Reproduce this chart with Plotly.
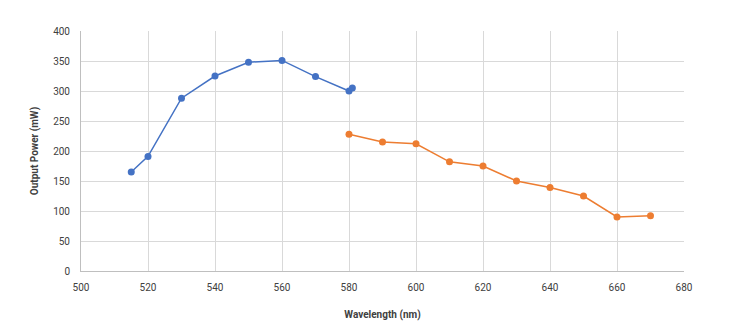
import plotly.graph_objects as go

# Output power vs wavelength for two laser lines
wl_green = [515, 520, 530, 540, 550, 560, 570, 580, 581]
pw_green = [165, 191, 288, 325, 348, 351, 324, 300, 305]

wl_orange = [580, 590, 600, 610, 620, 630, 640, 650, 660, 670]
pw_orange = [228, 215, 212, 182, 175, 150, 139, 125, 90, 92]

x_ticks = [500, 520, 540, 560, 580, 600, 620, 640, 660, 680]
y_ticks = [0, 50, 100, 150, 200, 250, 300, 350, 400]

font_family = "Roboto, sans-serif"

fig = go.Figure()
fig.add_trace(go.Scatter(
    x=wl_green, y=pw_green, mode="lines+markers",
    line=dict(color="#4472C4", width=1.5),
    marker=dict(color="#4472C4", size=7),
    showlegend=False,
))
fig.add_trace(go.Scatter(
    x=wl_orange, y=pw_orange, mode="lines+markers",
    line=dict(color="#ED7D31", width=1.5),
    marker=dict(color="#ED7D31", size=7),
    showlegend=False,
))

fig.update_layout(
    width=730, height=336,
    margin=dict(l=81, r=46, t=31, b=65),
    paper_bgcolor="white", plot_bgcolor="white",
    font=dict(family=font_family, size=10, color="#404040"),
    xaxis=dict(
        range=[500, 680], tickvals=x_ticks, showgrid=True,
        gridcolor="#d9d9d9", gridwidth=1, zeroline=False,
        showline=True, linecolor="#bfbfbf", mirror=False,
        ticks="outside", ticklen=7, tickcolor="rgba(0,0,0,0)",
        title=dict(text="<b>Wavelength (nm)</b>", standoff=18,
                   font=dict(size=10, color="#404040")),
    ),
    yaxis=dict(
        range=[0, 400], tickvals=y_ticks, showgrid=True,
        gridcolor="#d9d9d9", gridwidth=1, zeroline=False,
        showline=True, linecolor="#bfbfbf",
        ticks="outside", ticklen=8, tickcolor="rgba(0,0,0,0)",
        title=dict(text="<b>Output Power (mW)</b>", standoff=12,
                   font=dict(size=10, color="#404040")),
    ),
)

fig.write_html("out.html")
